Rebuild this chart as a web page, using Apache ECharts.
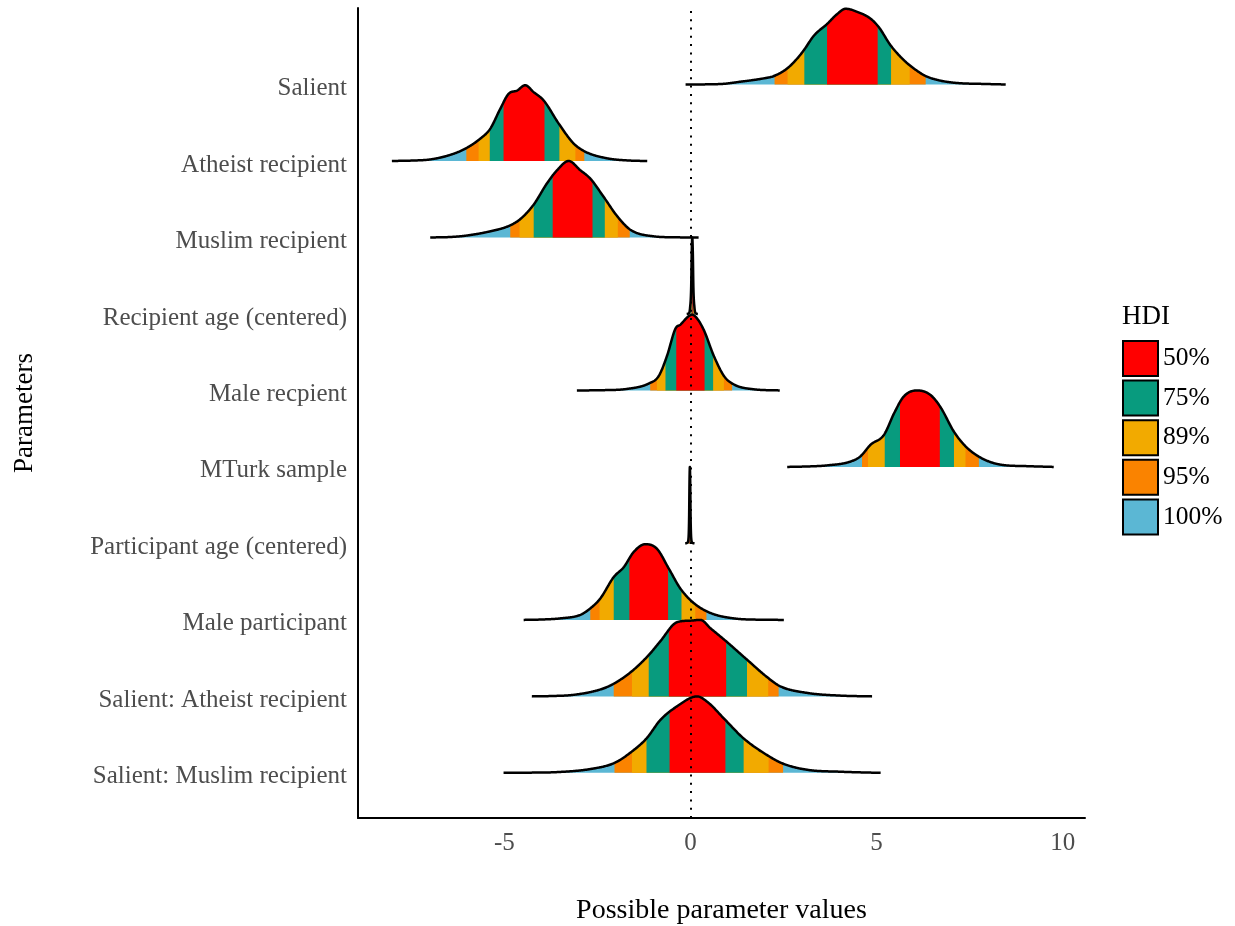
<!DOCTYPE html>
<html><head><meta charset="utf-8">
<script src="https://cdn.jsdelivr.net/npm/echarts@6/dist/echarts.min.js"></script>
<style>html,body{margin:0;padding:0;background:#fff}#c{width:1235px;height:926px}</style>
</head><body><div id="c"></div>
<script>
// ---------- data ----------
const categories = ['Salient','Atheist recipient','Muslim recipient','Recipient age (centered)','Male recpient','MTurk sample','Participant age (centered)','Male participant','Salient: Atheist recipient','Salient: Muslim recipient'];
const xTickValues = [-5, 0, 5, 10];
const hdiLevels = ['50%','75%','89%','95%','100%'];
const hdiColors = ['#FF0000','#089B7E','#F2AA00','#FA8300','#5BB7D4'];
const refLineX = 0;

// density curves (x values and relative heights, peak = 1)
const salientX = [-0.13,0.81,1.34,1.97,2.24,2.60,2.87,3.05,3.32,3.67,3.94,4.17,4.48,4.84,5.06,5.38,5.73,6.00,6.32,6.63,7.08,7.98,8.47];
const salientH = [0,0.006,0.036,0.08,0.11,0.21,0.34,0.45,0.64,0.79,0.92,0.99,0.95,0.86,0.75,0.51,0.32,0.21,0.11,0.06,0.023,0.006,0];
const atheistX = [-8.02,-7.5,-6.99,-6.45,-6.05,-5.65,-5.38,-5.11,-4.88,-4.66,-4.44,-4.21,-3.94,-3.54,-3.14,-2.82,-2.24,-1.61,-1.16];
const atheistH = [0,0.005,0.02,0.08,0.16,0.29,0.42,0.68,0.88,0.92,0.99,0.90,0.79,0.49,0.23,0.12,0.035,0.005,0];
const muslimX = [-6.99,-6.5,-6.09,-5.38,-4.88,-4.57,-4.21,-3.85,-3.58,-3.27,-2.96,-2.69,-2.33,-1.97,-1.61,-0.99,-0.4,0.22];
const muslimH = [0,0.005,0.02,0.08,0.15,0.24,0.43,0.71,0.88,1.0,0.88,0.77,0.53,0.28,0.10,0.015,0.002,0];
const recAgeX = [-0.10,-0.04,-0.01,0.02,0.035,0.05,0.065,0.08,0.11,0.14,0.20];
const recAgeH = [0,0.01,0.08,0.35,0.8,1.0,0.8,0.35,0.08,0.01,0];
const maleRecX = [-3.05,-2.4,-1.70,-1.12,-0.85,-0.63,-0.40,-0.27,-0.05,0.05,0.18,0.36,0.63,0.90,1.16,1.70,2.40];
const maleRecH = [0,0.003,0.02,0.09,0.19,0.45,0.81,0.86,0.97,0.99,0.94,0.79,0.45,0.19,0.08,0.015,0];
const mturkX = [2.60,3.0,3.67,4.30,4.57,4.84,5.20,5.47,5.73,6.09,6.45,6.72,7.08,7.39,7.80,8.33,9.05,9.76];
const mturkH = [0,0.004,0.02,0.07,0.14,0.29,0.42,0.70,0.92,1.0,0.94,0.78,0.46,0.27,0.12,0.03,0.01,0];
const partAgeX = [-0.14,-0.08,-0.05,-0.035,-0.025,-0.015,-0.005,0.005,0.02,0.05,0.11];
const partAgeH = [0,0.01,0.08,0.35,0.8,1.0,0.8,0.35,0.08,0.01,0];
const malePartX = [-4.48,-4.0,-3.49,-2.96,-2.69,-2.42,-2.06,-1.79,-1.52,-1.21,-0.90,-0.58,-0.27,0.09,0.54,1.16,1.96,2.51];
const malePartH = [0,0.005,0.02,0.065,0.15,0.28,0.56,0.69,0.89,0.99,0.93,0.67,0.41,0.22,0.09,0.02,0.002,0];
const salAthX = [-4.26,-3.7,-3.14,-2.42,-2.06,-1.57,-1.12,-0.81,-0.36,0.0,0.27,0.54,0.96,1.52,2.09,2.42,3.14,4.03,4.88];
const salAthH = [0,0.005,0.02,0.09,0.165,0.33,0.54,0.72,0.97,0.99,1.0,0.89,0.72,0.48,0.24,0.13,0.045,0.01,0];
const salMusX = [-5.02,-4.3,-3.58,-2.69,-2.04,-1.57,-1.18,-0.81,-0.36,0.18,0.45,0.94,1.43,2.10,2.49,3.14,4.03,5.11];
const salMusH = [0,0.003,0.01,0.05,0.13,0.28,0.45,0.69,0.87,1.0,0.93,0.69,0.45,0.22,0.12,0.04,0.015,0];

// HDI intervals: 50%, 75%, 89%, 95%
const salientHdi  = [[3.67,5.03],[3.06,5.39],[2.61,5.89],[2.26,6.32]];
const atheistHdi  = [[-5.02,-3.92],[-5.39,-3.52],[-5.69,-3.09],[-6.02,-2.85]];
const muslimHdi   = [[-3.70,-2.63],[-4.21,-2.30],[-4.59,-1.95],[-4.84,-1.63]];
const recAgeHdi   = [[0.04,0.06],[0.03,0.07],[0.02,0.08],[0.01,0.09]];
const maleRecHdi  = [[-0.38,0.38],[-0.67,0.61],[-0.90,0.90],[-1.08,1.12]];
const mturkHdi    = [[5.63,6.70],[5.22,7.08],[4.77,7.39],[4.61,7.75]];
const partAgeHdi  = [[-0.025,-0.005],[-0.035,0.005],[-0.045,0.015],[-0.055,0.025]];
const malePartHdi = [[-1.64,-0.60],[-2.06,-0.24],[-2.44,0.13],[-2.69,0.43]];
const salAthHdi   = [[-0.58,0.96],[-1.12,1.52],[-1.57,2.09],[-2.06,2.37]];
const salMusHdi   = [[-0.56,0.94],[-1.18,1.43],[-1.57,2.10],[-2.04,2.49]];

const ridgeX = [salientX,atheistX,muslimX,recAgeX,maleRecX,mturkX,partAgeX,malePartX,salAthX,salMusX];
const ridgeH = [salientH,atheistH,muslimH,recAgeH,maleRecH,mturkH,partAgeH,malePartH,salAthH,salMusH];
const ridgeHdi = [salientHdi,atheistHdi,muslimHdi,recAgeHdi,maleRecHdi,mturkHdi,partAgeHdi,malePartHdi,salAthHdi,salMusHdi];

// ---------- rendering helpers ----------
const FONT = 'Liberation Serif';
function makeMono(xs, ys) {
  const n = xs.length, d = [], m = new Array(n);
  for (let i = 0; i < n - 1; i++) d.push((ys[i+1]-ys[i])/(xs[i+1]-xs[i]));
  m[0] = d[0]; m[n-1] = d[n-2];
  for (let i = 1; i < n - 1; i++) m[i] = (d[i-1]*d[i] <= 0) ? 0 : (d[i-1]+d[i])/2;
  for (let i = 0; i < n - 1; i++) {
    if (d[i] === 0) { m[i] = 0; m[i+1] = 0; continue; }
    const a = m[i]/d[i], b = m[i+1]/d[i], s = a*a+b*b;
    if (s > 9) { const t = 3/Math.sqrt(s); m[i] = t*a*d[i]; m[i+1] = t*b*d[i]; }
  }
  return function (x) {
    if (x <= xs[0]) return ys[0];
    if (x >= xs[n-1]) return ys[n-1];
    let i = 0; while (i < n - 2 && x > xs[i+1]) i++;
    const h = xs[i+1]-xs[i], t = (x-xs[i])/h, t2 = t*t, t3 = t2*t;
    const v = (2*t3-3*t2+1)*ys[i] + (t3-2*t2+t)*h*m[i] + (-2*t3+3*t2)*ys[i+1] + (t3-t2)*h*m[i+1];
    return Math.max(0, v);
  };
}
const ridgeFns = ridgeX.map((xs, i) => makeMono(xs, ridgeH[i]));

function renderRidge(params, api) {
  const i = api.value(0);
  const xs = ridgeX[i], f = ridgeFns[i];
  const base = categories.length - i;
  const x0 = xs[0], x1 = xs[xs.length-1];
  const N = 500;
  const samples = [];
  for (let k = 0; k <= N; k++) { const x = x0 + (x1-x0)*k/N; samples.push([x, f(x)]); }
  const bands = [[x0, x1]].concat(ridgeHdi[i].slice().reverse()); // 100,95,89,75,50
  const bandColors = hdiColors.slice().reverse();
  const children = [];
  bands.forEach((b, j) => {
    const lo = b[0], hi = b[1];
    const pts = [api.coord([lo, base]), api.coord([lo, base + f(lo)])];
    samples.forEach(s => { if (s[0] > lo && s[0] < hi) pts.push(api.coord([s[0], base + s[1]])); });
    pts.push(api.coord([hi, base + f(hi)]));
    pts.push(api.coord([hi, base]));
    children.push({ type: 'polygon', shape: { points: pts }, style: { fill: bandColors[j], stroke: null } });
  });
  children.push({ type: 'polyline', shape: { points: samples.map(s => api.coord([s[0], base + s[1]])) },
    style: { stroke: '#000', lineWidth: 2.5, fill: null, lineJoin: 'round' } });
  return { type: 'group', children };
}

const chart = echarts.init(document.getElementById('c'), null, { renderer: 'canvas' });
const legendSeries = hdiLevels.map((name, k) => ({
  name, type: 'scatter', data: [], itemStyle: { color: hdiColors[k], opacity: 1 }
}));

chart.setOption({
  animation: false,
  backgroundColor: '#fff',
  textStyle: { fontFamily: FONT },
  title: { text: 'HDI', left: 1122, top: 303, padding: 0,
    textStyle: { fontFamily: FONT, fontSize: 27, fontWeight: 'normal', color: '#000' } },
  legend: {
    orient: 'vertical', left: 1122, top: 340, padding: 0,
    itemWidth: 35, itemHeight: 35, itemGap: 2.6,
    data: hdiLevels.map(n => ({ name: n, icon: 'rect' })),
    itemStyle: { borderColor: '#000', borderWidth: 2, opacity: 1 },
    textStyle: { fontFamily: FONT, fontSize: 25.5, color: '#000', padding: [0,0,0,0] },
    selectedMode: false
  },
  grid: { left: 358, right: 150, top: 8, bottom: 108, containLabel: false, outerBoundsMode: 'none' },
  xAxis: {
    type: 'value', min: -8.93, max: 10.6,
    name: 'Possible parameter values', nameLocation: 'middle', nameGap: 79,
    nameTextStyle: { fontFamily: FONT, fontSize: 28, color: '#000' },
    axisLine: { show: true, onZero: false, lineStyle: { color: '#000', width: 2 } },
    axisTick: { show: false },
    splitLine: { show: false },
    axisLabel: { customValues: xTickValues, fontFamily: FONT, fontSize: 25, color: '#4D4D4D', margin: 13 }
  },
  yAxis: {
    type: 'value', min: 0.41, max: 11.0,
    name: 'Parameters', nameLocation: 'middle', nameGap: 320, nameRotate: 90,
    nameTextStyle: { fontFamily: FONT, fontSize: 27, color: '#000' },
    axisLine: { show: true, onZero: false, lineStyle: { color: '#000', width: 2 } },
    axisTick: { show: false },
    splitLine: { show: false },
    axisLabel: {
      customValues: categories.map((c, i) => categories.length - i),
      formatter: v => categories[categories.length - Math.round(v)] || '',
      fontFamily: FONT, fontSize: 25, color: '#4D4D4D', margin: 11,
      verticalAlign: 'top', lineHeight: 8
    }
  },
  series: [
    {
      name: 'ridges', type: 'custom', renderItem: renderRidge,
      data: categories.map((c, i) => [i]), encode: { x: -1, y: -1 }, clip: false, z: 2, silent: true
    },
    {
      name: 'ref', type: 'line', data: [], z: 5, silent: true,
      markLine: {
        silent: true, symbol: 'none', label: { show: false },
        lineStyle: { color: '#000', width: 2, type: [2, 6.3] },
        data: [{ xAxis: refLineX }]
      }
    }
  ].concat(legendSeries)
});
</script>
</body></html>
